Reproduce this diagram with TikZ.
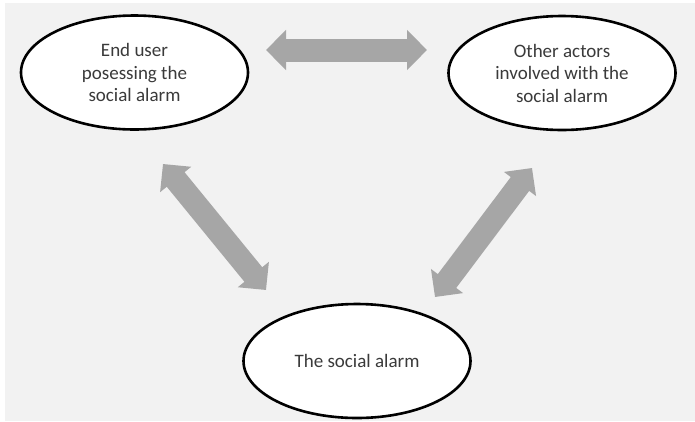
\documentclass[tikz,border=0pt]{standalone}
\usepackage{fontspec}
\setmainfont{Carlito}
\usetikzlibrary{shapes.geometric,arrows.meta}
\definecolor{bg}{HTML}{F2F2F2}
\definecolor{arr}{HTML}{A6A6A6}
\definecolor{txt}{HTML}{3A3A3A}
\begin{document}
\begin{tikzpicture}[x=1pt,y=-1pt,
  actor/.style={ellipse, draw=black, line width=2.6pt, fill=white,
    minimum width=227pt, minimum height=114pt, inner sep=0pt,
    align=center, text=txt, font=\fontsize{19}{22.5}\selectfont},
  bigarrow/.style={draw=arr, line width=23pt,
    {Triangle[length=20pt,width=39pt]}-{Triangle[length=20pt,width=39pt]}}
]
\useasboundingbox (0,0) rectangle (695,421);
\fill[bg] (5,3) rectangle (695,421);
\node[actor] (user) at (134.5,72.5) {End user\\posessing the\\social alarm};
\node[actor] (other) at (562,73) {Other actors\\involved with the\\social alarm};
\node[actor] (alarm) at (357,361) {The social alarm};
\coordinate (h1) at (266,50);
\coordinate (h2) at (427,50);
\coordinate (l1) at (163,164);
\coordinate (l2) at (266,290);
\coordinate (r1) at (532,168);
\coordinate (r2) at (435,297);
\draw[bigarrow] (h1) -- (h2);
\draw[bigarrow] (l1) -- (l2);
\draw[bigarrow] (r1) -- (r2);
\end{tikzpicture}
\end{document}
